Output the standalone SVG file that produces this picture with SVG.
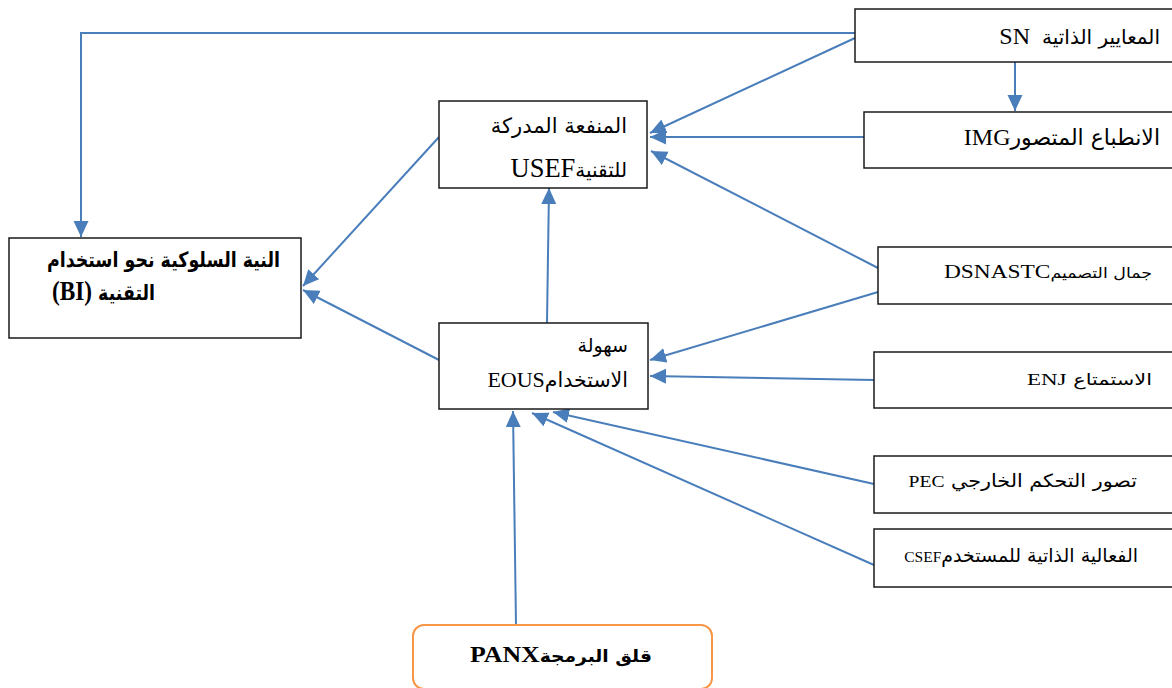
<svg xmlns="http://www.w3.org/2000/svg" width="1172" height="688" viewBox="0 0 1172 688">
<style>
.box{fill:#fff;stroke:#1a1a1a;stroke-width:1.5}
.obox{fill:#fff;stroke:#f79646;stroke-width:2}
.t{font-family:"DejaVu Sans",sans-serif;fill:#000;direction:rtl}
.l{font-family:"Liberation Serif",serif}
.b{font-weight:bold}
.c{fill:none;stroke:#4a7ebb;stroke-width:2}
</style>
<defs>
<marker id="ah" markerUnits="userSpaceOnUse" markerWidth="16" markerHeight="16" refX="16" refY="7.5" orient="auto">
<path d="M0,0 L16,7.5 L0,15 z" fill="#4a7ebb"/>
</marker>
</defs>
<rect width="1172" height="688" fill="#fff"/>
<g id="connectors">
<path class="c" d="M855,33 H81 V237" marker-end="url(#ah)"/>
<path class="c" d="M855,38 L650,133" marker-end="url(#ah)"/>
<path class="c" d="M1015,62 V111" marker-end="url(#ah)"/>
<path class="c" d="M864,137 H650" marker-end="url(#ah)"/>
<path class="c" d="M878,268 L651,151" marker-end="url(#ah)"/>
<path class="c" d="M878,292 L650,360" marker-end="url(#ah)"/>
<path class="c" d="M874,380 L650,376" marker-end="url(#ah)"/>
<path class="c" d="M874,484 L553,412" marker-end="url(#ah)"/>
<path class="c" d="M874,565 L532,413" marker-end="url(#ah)"/>
<path class="c" d="M516,625 L513,411" marker-end="url(#ah)"/>
<path class="c" d="M547,323 L549,188" marker-end="url(#ah)"/>
<path class="c" d="M439,137 L303,286" marker-end="url(#ah)"/>
<path class="c" d="M439,360 L303,290" marker-end="url(#ah)"/>
</g>
<g id="sn">
<rect class="box" x="855" y="9" width="318" height="53"/>
<text class="t" x="1160" y="44" font-size="20" text-anchor="start">المعايير الذاتية<tspan class="l" font-size="24">&#160;&#160;SN</tspan></text>
</g>
<g id="img">
<rect class="box" x="864" y="112" width="309" height="56"/>
<text class="t" x="1160" y="145" font-size="22" text-anchor="start">الانطباع المتصور<tspan class="l" font-size="24">IMG</tspan></text>
</g>
<g id="usef">
<rect class="box" x="439" y="101" width="208" height="87"/>
<text class="t" x="627" y="133" font-size="21" text-anchor="start">المنفعة المدركة</text>
<text class="t" x="627" y="177" font-size="20" text-anchor="start">للتقنية<tspan class="l" font-size="26.5">USEF</tspan></text>
</g>
<g id="bi">
<rect class="box" x="9" y="238" width="292" height="100"/>
<text class="t b" transform="translate(280,267) scale(0.83,1)" x="0" y="0" font-size="21" text-anchor="start">النية السلوكية نحو استخدام</text>
<text class="t b" transform="translate(52,300) scale(0.83,1)" x="0" y="0" font-size="21" text-anchor="end">التقنية <tspan class="l" font-size="28">(BI)</tspan></text>
</g>
<g id="eous">
<rect class="box" x="439" y="323" width="209" height="86"/>
<text class="t" x="628" y="352" font-size="19" text-anchor="start">سهولة</text>
<text class="t" x="628" y="387" font-size="20.5" text-anchor="start">الاستخدام<tspan class="l" font-size="22">EOUS</tspan></text>
</g>
<g id="dsnastc">
<rect class="box" x="878" y="247" width="295" height="57"/>
<text class="t" transform="translate(1152,278) scale(1.2,1)" x="0" y="0" font-size="14.5" text-anchor="start">جمال التصميم<tspan class="l" font-size="19.5">DSNASTC</tspan></text>
</g>
<g id="enj">
<rect class="box" x="874" y="352" width="299" height="56"/>
<text class="t" transform="translate(1152,385) scale(1.35,1)" x="0" y="0" font-size="15.5" text-anchor="start">الاستمتاع <tspan class="l" font-size="17">ENJ</tspan></text>
</g>
<g id="pec">
<rect class="box" x="874" y="456" width="299" height="57"/>
<text class="t" transform="translate(1137,487) scale(1.15,1)" x="0" y="0" font-size="18" text-anchor="start">تصور التحكم الخارجي <tspan class="l" font-size="17">PEC</tspan></text>
</g>
<g id="csef">
<rect class="box" x="874" y="529" width="299" height="58"/>
<text class="t" x="1138" y="562" font-size="19" text-anchor="start">الفعالية الذاتية للمستخدم<tspan class="l" font-size="15.5">CSEF</tspan></text>
</g>
<g id="panx">
<rect class="obox" x="413" y="625" width="299" height="64" rx="11"/>
<text class="t b" transform="translate(652,662) scale(1.1,1)" x="0" y="0" font-size="17" text-anchor="start">قلق البرمجة<tspan class="l" font-size="23.5">PANX</tspan></text>
</g>
</svg>
